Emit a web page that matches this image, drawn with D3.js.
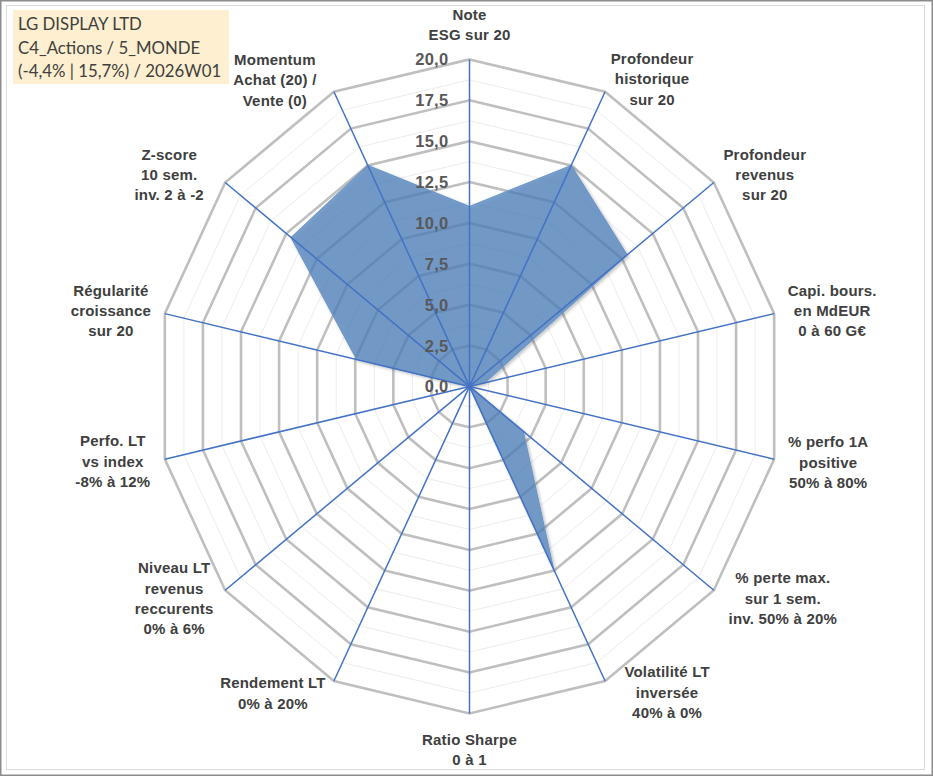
<!DOCTYPE html>
<html>
<head>
<meta charset="utf-8">
<script src="https://cdn.jsdelivr.net/npm/d3@7"></script>
<style>
  html, body { margin: 0; padding: 0; background: #fff; }
  svg { display: block; }
</style>
</head>
<body>
<svg id="chart" width="933" height="776"></svg>
<script>
// ---- data ----
const categories = [
  ["Note", "ESG sur 20"],
  ["Profondeur", "historique", "sur 20"],
  ["Profondeur", "revenus", "sur 20"],
  ["Capi. bours.", "en MdEUR", "0 à 60 G€"],
  ["% perfo 1A", "positive", "50% à 80%"],
  ["% perte max.", "sur 1 sem.", "inv. 50% à 20%"],
  ["Volatilité LT", "inversée", "40% à 0%"],
  ["Ratio Sharpe", "0 à 1"],
  ["Rendement LT", "0% à 20%"],
  ["Niveau LT", "revenus", "reccurents", "0% à 6%"],
  ["Perfo. LT", "vs index", "-8% à 12%"],
  ["Régularité", "croissance", "sur 20"],
  ["Z-score", "10 sem.", "inv. 2 à -2"],
  ["Momentum", "Achat (20) /", "Vente (0)"]
];
const values = [11.0, 15.0, 12.9, 1.0, 0, 4.4, 12.4, 0, 0, 0, 0, 7.4, 14.6, 15.0];
const tickValues = [0, 2.5, 5, 7.5, 10, 12.5, 15, 17.5, 20];
const minorTickValues = [1.25, 3.75, 6.25, 8.75, 11.25, 13.75, 16.25, 18.75];
const titleLines = ["LG DISPLAY LTD", "C4_Actions / 5_MONDE", "(-4,4% | 15,7%) / 2026W01"];

// ---- layout ----
const W = 933, H = 776;
const cx = 469.5, cy = 386.4;
const rX = d3.scaleLinear().domain([0, 20]).range([0, 312.5]);
const rY = d3.scaleLinear().domain([0, 20]).range([0, 327]);
const n = categories.length;
const angle = d3.scaleLinear().domain([0, n]).range([0, 2 * Math.PI]);
// label block centre offsets from the outer vertex (layout only)
const labelOffsets = [
  [0, -35], [47, -13], [51, -8], [58, -3], [54, 3], [69, 8], [62, 11],
  [0, 36], [-61, 12], [-51, 8], [-52, 2], [-54, -3], [-56, -8], [-59, -12]
];

function pt(i, v) {
  const a = angle(i);
  return [cx + rX(v) * Math.sin(a), cy - rY(v) * Math.cos(a)];
}

const svg = d3.select("#chart");

// frame
svg.append("rect").attr("x", 0.75).attr("y", 0.75).attr("width", W - 1.5).attr("height", H - 1.5)
  .attr("fill", "#fff").attr("stroke", "#8c8c8c").attr("stroke-width", 1.5);
svg.append("rect").attr("x", 6.5).attr("y", 5.5).attr("width", 918).attr("height", 764)
  .attr("fill", "none").attr("stroke", "#dadada").attr("stroke-width", 1);

const defs = svg.append("defs");
const f = defs.append("filter").attr("id", "shadow").attr("x", "-20%").attr("y", "-20%")
  .attr("width", "140%").attr("height", "140%");
f.append("feDropShadow").attr("dx", 1.5).attr("dy", 1.5).attr("stdDeviation", 1.6)
  .attr("flood-color", "#000").attr("flood-opacity", 0.3);

const line = d3.line().curve(d3.curveLinearClosed);
const idx = d3.range(n);

// minor grid
svg.append("g").selectAll("path").data(minorTickValues).join("path")
  .attr("d", v => line(idx.map(i => pt(i, v))))
  .attr("fill", "none").attr("stroke", "#ececec").attr("stroke-width", 1);

// major grid
svg.append("g").selectAll("path").data(tickValues.filter(v => v > 0)).join("path")
  .attr("d", v => line(idx.map(i => pt(i, v))))
  .attr("fill", "none").attr("stroke", "#bfbfbf").attr("stroke-width", 2.6)
  .attr("stroke-linejoin", "miter");

// data polygon
svg.append("path")
  .attr("d", line(values.map((v, i) => pt(i, v))))
  .attr("fill", "#4f81bd").attr("fill-opacity", 0.72)
  .attr("stroke", "#6b96c9").attr("stroke-width", 1.2)
  .attr("filter", "url(#shadow)");

// spokes
svg.append("g").selectAll("line").data(idx).join("line")
  .attr("x1", cx).attr("y1", cy)
  .attr("x2", i => pt(i, 20)[0]).attr("y2", i => pt(i, 20)[1])
  .attr("stroke", "#4472c4").attr("stroke-width", 1.5);

// tick labels
svg.append("g").selectAll("text").data(tickValues).join("text")
  .attr("x", cx - 21).attr("y", v => cy - rY(v))
  .attr("text-anchor", "end").attr("dominant-baseline", "central")
  .attr("font-family", "Liberation Sans, Arial, sans-serif").attr("font-weight", "bold")
  .attr("font-size", 16.5).attr("fill", "#595959").attr("letter-spacing", 0.3)
  .text(v => d3.format(".1f")(v).replace(".", ","));

// category labels
const lh = 20.3;
const lg = svg.append("g");
categories.forEach((lines, i) => {
  const p = pt(i, 20);
  const lx = p[0] + labelOffsets[i][0];
  const ly = p[1] + labelOffsets[i][1];
  const t = lg.append("text")
    .attr("text-anchor", "middle")
    .attr("font-family", "Liberation Sans, Arial, sans-serif").attr("font-weight", "bold")
    .attr("font-size", 15).attr("fill", "#404040").attr("letter-spacing", 0.2);
  lines.forEach((s, k) => {
    t.append("tspan").attr("x", lx)
      .attr("y", ly + (k - (lines.length - 1) / 2) * lh)
      .attr("dominant-baseline", "central").text(s);
  });
});

// title box
svg.append("rect").attr("x", 13).attr("y", 10).attr("width", 216).attr("height", 74)
  .attr("fill", "#fdefcf");
const tt = svg.append("text").attr("font-family", "Lato, Open Sans, sans-serif")
  .attr("font-size", 16.8).attr("fill", "#404040");
titleLines.forEach((s, k) => {
  tt.append("tspan").attr("x", 18).attr("y", 30 + k * 23.5).text(s);
});
</script>
</body>
</html>
